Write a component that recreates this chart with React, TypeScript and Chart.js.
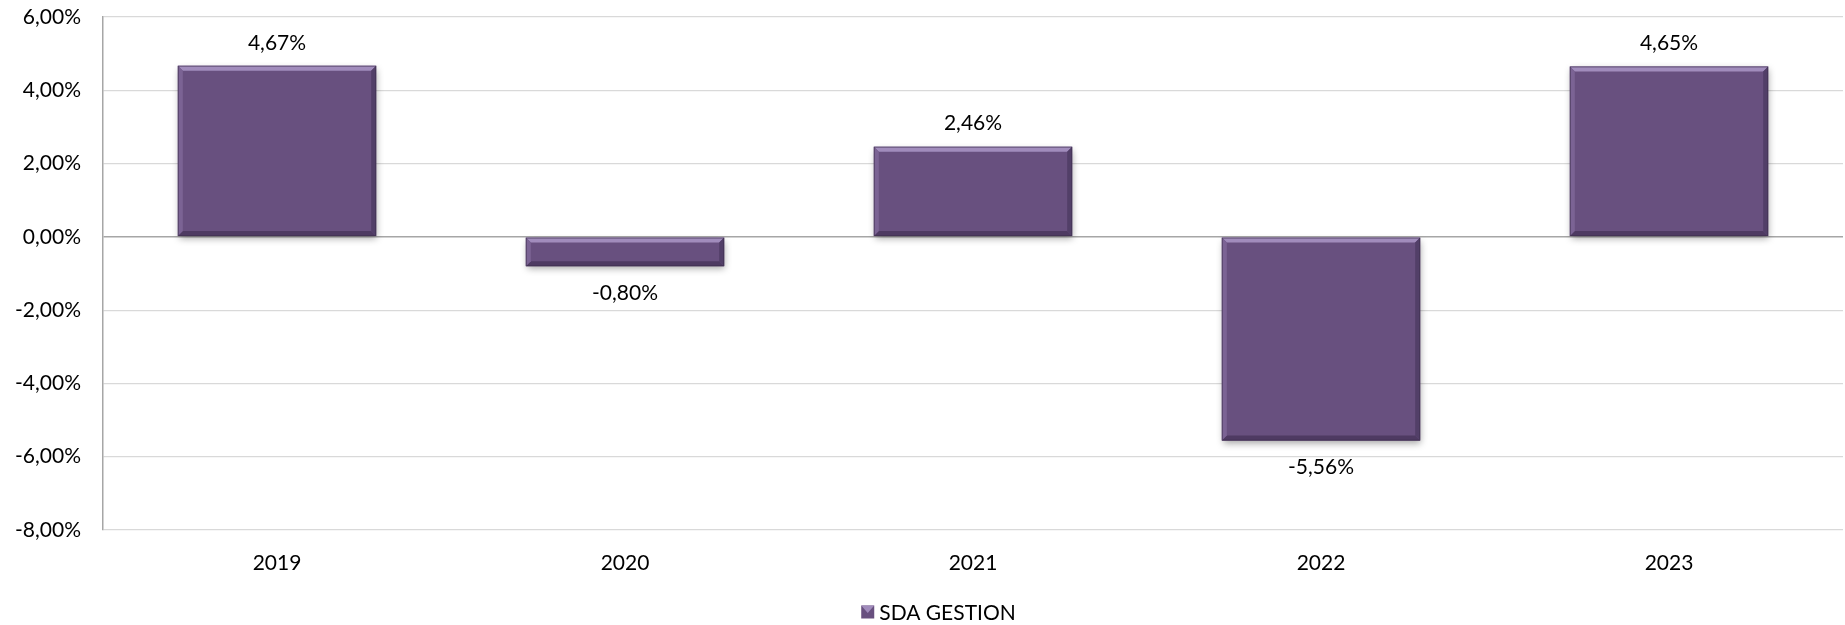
import React, { useEffect, useRef } from "react";
import { Chart, registerables } from "chart.js";

Chart.register(...registerables);

const categories = ["2019", "2020", "2021", "2022", "2023"];
const seriesLabel = "SDA GESTION";
const seriesValues = [4.67, -0.8, 2.46, -5.56, 4.65];
const yMin = -8;
const yMax = 6;
const yStep = 2;

const FONT = "Lato, 'Noto Sans', sans-serif";
const FS = 21;
const BAR = "#68507f";

const fmt = (v: number) => v.toFixed(2).replace(".", ",") + "%";

const bevelPlugin = {
  id: "bevel",
  beforeDatasetsDraw(chart: any) {
    const ctx = chart.ctx;
    const meta = chart.getDatasetMeta(0);
    ctx.save();
    meta.data.forEach((bar: any) => {
      const { x, y, base, width } = bar.getProps(["x", "y", "base", "width"], true);
      const top = Math.min(y, base);
      const h = Math.abs(base - y);
      ctx.shadowColor = "rgba(0,0,0,0.35)";
      ctx.shadowBlur = 7;
      ctx.shadowOffsetX = 1;
      ctx.shadowOffsetY = 3;
      ctx.fillStyle = BAR;
      ctx.fillRect(x - width / 2, top, width, h);
    });
    ctx.restore();
  },
  afterDatasetsDraw(chart: any) {
    const ctx = chart.ctx;
    const meta = chart.getDatasetMeta(0);
    ctx.save();
    meta.data.forEach((bar: any, i: number) => {
      const { x, y, base, width } = bar.getProps(["x", "y", "base", "width"], true);
      const l = x - width / 2;
      const r = x + width / 2;
      const t = Math.min(y, base);
      const b = Math.max(y, base);
      const s = Math.min(5, (b - t) / 2);
      const poly = (pts: number[][], c: string) => {
        ctx.beginPath();
        ctx.moveTo(pts[0][0], pts[0][1]);
        for (let k = 1; k < pts.length; k++) ctx.lineTo(pts[k][0], pts[k][1]);
        ctx.closePath();
        ctx.fillStyle = c;
        ctx.fill();
      };
      poly([[l, t], [r, t], [r - s, t + s], [l + s, t + s]], "#a18cbc");
      poly([[l, b], [r, b], [r - s, b - s], [l + s, b - s]], "#4e3a62");
      poly([[l, t], [l + s, t + s], [l + s, b - s], [l, b]], "#7b6394");
      poly([[r, t], [r - s, t + s], [r - s, b - s], [r, b]], "#523f68");
      ctx.strokeStyle = "rgba(60,45,75,0.6)";
      ctx.lineWidth = 1;
      ctx.strokeRect(l + 0.5, t + 0.5, width - 1, b - t - 1);

      const v = seriesValues[i];
      ctx.fillStyle = "#000";
      ctx.font = `${FS}px ${FONT}`;
      ctx.textAlign = "center";
      ctx.textBaseline = "middle";
      const ly = v >= 0 ? y - 23 : y + 27;
      ctx.fillText(fmt(v), x, ly);
    });
    ctx.restore();
  },
  afterDraw(chart: any) {
    const ctx = chart.ctx;
    ctx.save();
    ctx.font = `${FS}px ${FONT}`;
    const label = chart.data.datasets[0].label;
    const tw = ctx.measureText(label).width;
    const box = 13;
    const gap = 5;
    const total = box + gap + tw;
    const cx = chart.width / 2 + 16;
    const startX = cx - total / 2;
    const cy = 612;
    ctx.fillStyle = BAR;
    ctx.fillRect(startX, cy - box / 2, box, box);
    ctx.fillStyle = "#a18cbc";
    ctx.beginPath();
    ctx.moveTo(startX, cy - box / 2);
    ctx.lineTo(startX + box, cy - box / 2);
    ctx.lineTo(startX + box / 2, cy + 1);
    ctx.closePath();
    ctx.fill();
    ctx.fillStyle = "#000";
    ctx.textAlign = "left";
    ctx.textBaseline = "middle";
    ctx.fillText(label, startX + box + gap, cy + 1);
    ctx.restore();
  },
};

export default function App() {
  const ref = useRef<HTMLCanvasElement | null>(null);
  useEffect(() => {
    document.body.style.margin = "0";
    if (!ref.current) return;
    const chart = new Chart(ref.current, {
      type: "bar",
      data: {
        labels: categories,
        datasets: [
          {
            label: seriesLabel,
            data: seriesValues,
            backgroundColor: "rgba(0,0,0,0)",
            borderWidth: 0,
            categoryPercentage: 1,
            barPercentage: 0.57,
          },
        ],
      },
      options: {
        responsive: false,
        animation: false,
        devicePixelRatio: 1,
        layout: { padding: { top: 17, right: 2, left: 0, bottom: 0 } },
        plugins: {
          legend: { display: false },
          tooltip: { enabled: false },
        },
        scales: {
          x: {
            grid: { display: false, drawTicks: false },
            border: { display: false },
            ticks: { color: "#000", font: { family: FONT, size: FS }, padding: 21 },
            afterFit: (s: any) => {
              s.height = 95;
              s.paddingLeft = 0;
              s.paddingRight = 0;
            },
          },
          y: {
            min: yMin,
            max: yMax,
            ticks: {
              stepSize: yStep,
              color: "#000",
              font: { family: FONT, size: FS },
              padding: 22,
              callback: (v: any) => fmt(Number(v)),
            },
            grid: {
              drawTicks: false,
              color: (c: any) => (c.tick && c.tick.value === 0 ? "#a6a6a6" : "#d9d9d9"),
              lineWidth: (c: any) => (c.tick && c.tick.value === 0 ? 1.5 : 1.2),
            },
            border: { color: "#a6a6a6", width: 1.5 },
            afterFit: (s: any) => {
              s.width = 103;
              s.paddingTop = 0;
              s.paddingBottom = 0;
            },
          },
        },
      },
      plugins: [bevelPlugin],
    });
    return () => chart.destroy();
  }, []);
  return (
    <div style={{ width: 1845, height: 625, background: "#fff" }}>
      <canvas ref={ref} width={1845} height={625} style={{ display: "block" }} />
    </div>
  );
}
